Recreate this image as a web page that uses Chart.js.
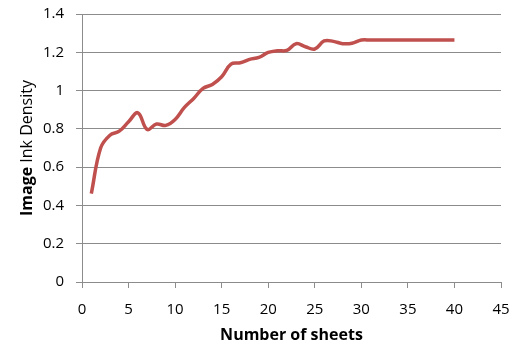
<!DOCTYPE html>
<html>
<head>
<meta charset="utf-8">
<script src="https://cdn.jsdelivr.net/npm/chart.js@4.4.1/dist/chart.umd.min.js"></script>
<style>
  html, body { margin: 0; padding: 0; background: #fff; }
  #wrap { width: 514px; height: 345px; position: relative; }
</style>
</head>
<body>
<div id="wrap"><canvas id="grafico"></canvas></div>
<script>
// Datos: número de hojas y densidad de tinta
const hojas = [1, 2, 3, 4, 5, 6, 7, 8, 9, 10, 11, 12, 13, 14, 15, 16, 17, 18, 19, 20,
  21, 22, 23, 24, 25, 26, 27, 28, 29, 30, 31, 32, 33, 34, 35, 36, 37, 38, 39, 40];
const densidad = [0.462, 0.70, 0.767, 0.788, 0.837, 0.884, 0.797, 0.825, 0.818, 0.849,
  0.912, 0.959, 1.011, 1.032, 1.072, 1.138, 1.145, 1.163, 1.173, 1.199,
  1.208, 1.210, 1.245, 1.229, 1.217, 1.259, 1.257, 1.245, 1.247, 1.264,
  1.264, 1.264, 1.264, 1.264, 1.264, 1.264, 1.264, 1.264, 1.264, 1.264];
const ticksX = [0, 5, 10, 15, 20, 25, 30, 35, 40, 45];
const ticksY = [0, 0.2, 0.4, 0.6, 0.8, 1, 1.2, 1.4];

const fuente = '"Open Sans", "Liberation Sans", sans-serif';
const gris = '#8c8c8c';

// Título del eje Y con "Image" en negrita y el resto normal
const tituloY = {
  id: 'tituloY',
  afterDraw(chart) {
    const ctx = chart.ctx;
    const area = chart.chartArea;
    const partes = [
      { texto: 'Image ', fuente: 'bold 16px ' + fuente },
      { texto: 'Ink Density', fuente: '16px ' + fuente }
    ];
    ctx.save();
    let total = 0;
    partes.forEach(p => { ctx.font = p.fuente; total += ctx.measureText(p.texto).width; });
    ctx.translate(27, (area.top + area.bottom) / 2);
    ctx.rotate(-Math.PI / 2);
    ctx.fillStyle = '#000';
    ctx.textBaseline = 'middle';
    let x = -total / 2;
    partes.forEach(p => {
      ctx.font = p.fuente;
      ctx.fillText(p.texto, x, 0);
      x += ctx.measureText(p.texto).width;
    });
    ctx.restore();
  }
};

new Chart(document.getElementById('grafico'), {
  type: 'line',
  data: {
    datasets: [{
      data: hojas.map((h, i) => ({ x: h, y: densidad[i] })),
      borderColor: '#c0504d',
      borderWidth: 3.5,
      pointRadius: 0,
      tension: 0.4,
      fill: false
    }]
  },
  options: {
    responsive: true,
    maintainAspectRatio: false,
    animation: false,
    devicePixelRatio: 1,
    layout: { padding: { top: 14, right: 13, left: 0, bottom: 0 } },
    plugins: { legend: { display: false }, tooltip: { enabled: false } },
    scales: {
      x: {
        type: 'linear',
        min: 0,
        max: 45,
        afterBuildTicks: s => { s.ticks = ticksX.map(v => ({ value: v })); },
        afterFit: s => { s.height = 63; s.paddingLeft = 0; s.paddingRight = 0; },
        border: { color: gris, width: 1 },
        grid: { drawOnChartArea: false, drawTicks: true, tickLength: 6, color: gris },
        ticks: { color: '#000', font: { family: fuente, size: 15 }, padding: 13, maxRotation: 0 },
        title: {
          display: true,
          text: 'Number of sheets',
          color: '#000',
          font: { family: fuente, size: 16, weight: 'bold' },
          padding: { top: 2, bottom: 0 }
        }
      },
      y: {
        min: 0,
        max: 1.4,
        afterBuildTicks: s => { s.ticks = ticksY.map(v => ({ value: v })); },
        afterFit: s => { s.width = 82; s.paddingTop = 0; s.paddingBottom = 0; },
        border: { color: gris, width: 1 },
        grid: { color: gris, lineWidth: 1, tickLength: 6 },
        ticks: {
          color: '#000',
          font: { family: fuente, size: 15 },
          padding: 12,
          callback: v => String(Math.round(v * 10) / 10)
        }
      }
    }
  },
  plugins: [tituloY]
});
</script>
</body>
</html>
